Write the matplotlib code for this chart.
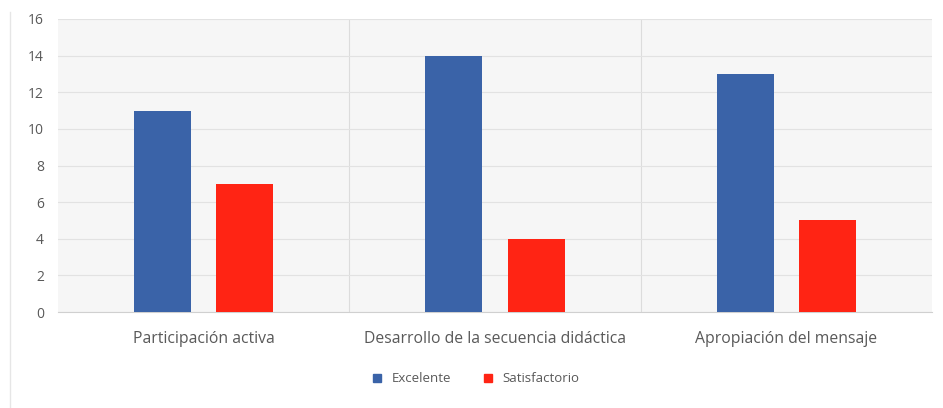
import matplotlib.pyplot as plt
import numpy as np
from matplotlib.lines import Line2D

# Chart data
categories = ['Participación activa', 'Desarrollo de la secuencia didáctica', 'Apropiación del mensaje']
excelente = [11, 14, 13]
satisfactorio = [7, 4, 5]
series_names = ['Excelente', 'Satisfactorio']
y_ticks = [0, 2, 4, 6, 8, 10, 12, 14, 16]

blue = '#3A63A8'
red = '#FF2414'
text_color = '#595959'

plt.rcParams['font.family'] = ['Open Sans', 'DejaVu Sans']

fig = plt.figure(figsize=(9.43, 4.08), dpi=100)
ax = fig.add_axes([58 / 943, 1 - 312 / 408, (932 - 58) / 943, (312 - 19) / 408])
ax.set_facecolor('#f6f6f6')

x = np.arange(len(categories))
width = 0.196
offset = 0.141
ax.bar(x - offset, excelente, width, color=blue, label=series_names[0], zorder=3)
ax.bar(x + offset, satisfactorio, width, color=red, label=series_names[1], zorder=3)

ax.set_xlim(-0.5, len(categories) - 0.5)
ax.set_ylim(0, 16)
ax.set_yticks(y_ticks)
ax.set_xticks(x)
ax.set_xticklabels(categories, fontsize=11.3)

# horizontal grid and category separators
ax.grid(axis='y', color='#e2e2e2', linewidth=0.8, zorder=0)
for sep in np.arange(0.5, len(categories) - 0.5, 1):
    ax.axvline(sep, color='#dcdcdc', linewidth=0.8, zorder=0)

for s in ['top', 'right', 'left']:
    ax.spines[s].set_visible(False)
ax.spines['bottom'].set_color('#d0d0d0')

ax.tick_params(axis='both', length=0, colors=text_color)
ax.tick_params(axis='y', pad=10, labelsize=10)
ax.tick_params(axis='x', pad=14)

handles = [Line2D([], [], marker='s', linestyle='', color=blue, markersize=6),
           Line2D([], [], marker='s', linestyle='', color=red, markersize=6)]
leg = fig.legend(handles, series_names, loc='center', bbox_to_anchor=(0.5, 1 - 379 / 408),
                 ncol=2, frameon=False, fontsize=9.5, handletextpad=0.1, columnspacing=1.8)
for t in leg.get_texts():
    t.set_color(text_color)

# thin border line on the left of the chart area
fig.add_artist(Line2D([10 / 943, 10 / 943], [0, 1 - 12 / 408], color='#e6e6e6', linewidth=1))

fig.savefig('out.png', dpi=100, facecolor='white')
